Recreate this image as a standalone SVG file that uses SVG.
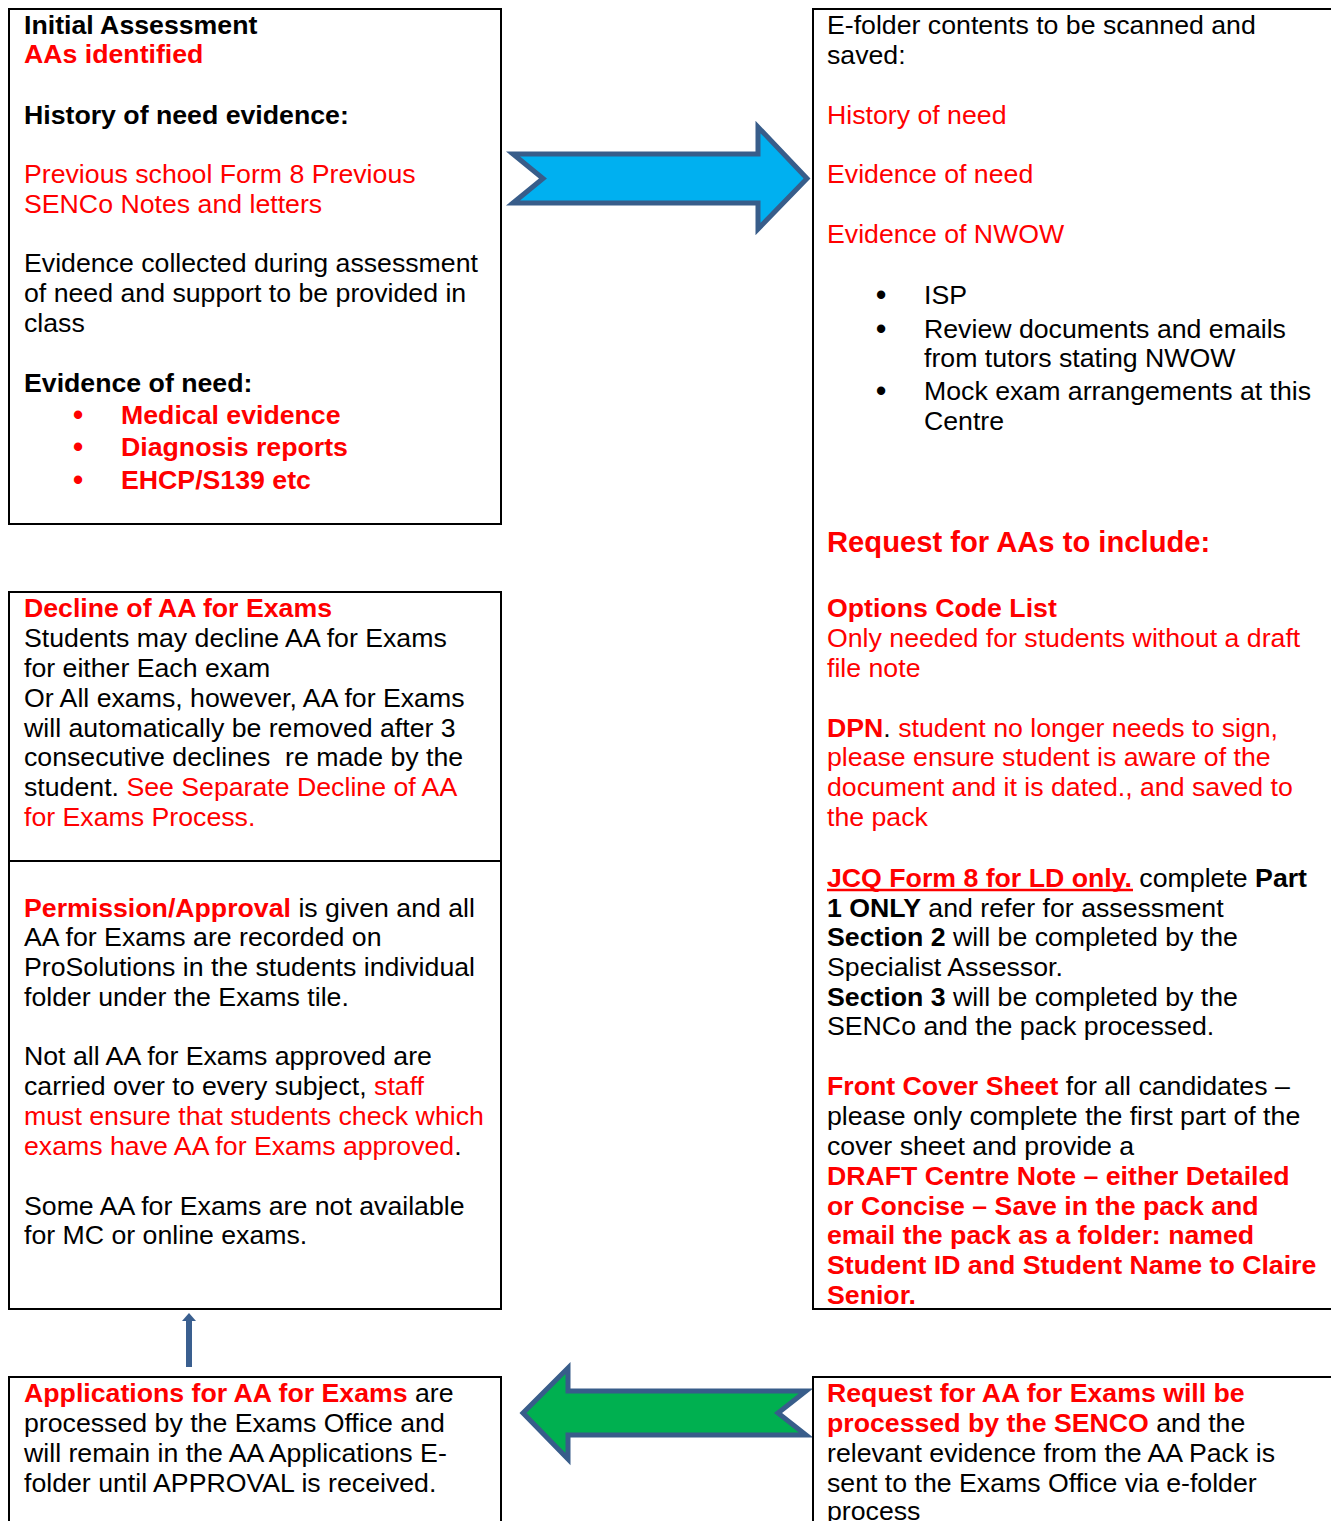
<svg xmlns="http://www.w3.org/2000/svg" width="1331" height="1521" viewBox="0 0 1331 1521">
<style>
text{font-family:"Liberation Sans",Arial,sans-serif;font-size:26.7px;fill:#000;white-space:pre}
.r{fill:#FF0000}
.b{font-weight:bold}
.h{font-size:29.2px}
.box{fill:#fff;stroke:#000;stroke-width:2}
.bul{font-size:29px}
</style>
<rect width="1331" height="1521" fill="#fff"/>

<g id="connectors">
<path d="M513,154 L543,178.5 L513,203 L758,203 L758,229 L807,178.5 L758,127 L758,154 Z" fill="#00B0F0" stroke="#385D8A" stroke-width="5" stroke-linejoin="miter"/>
<path d="M523,1413 L568,1368 L568,1391 L806,1391 L778,1413 L806,1435 L568,1435 L568,1459 Z" fill="#00B050" stroke="#385D8A" stroke-width="5" stroke-linejoin="miter"/>
<path d="M186,1367 L186,1321 L182,1321 L189,1313 L196,1321 L192,1321 L192,1367 Z" fill="#3A5F8F"/>
</g>

<g id="initial-assessment">
<rect class="box" x="9" y="9" width="492" height="515"/>
<text x="24" y="34" class="b">Initial Assessment</text>
<text x="24" y="63" class="b r">AAs identified</text>
<text x="24" y="124" class="b">History of need evidence:</text>
<text x="24" y="183" class="r">Previous school Form 8 Previous</text>
<text x="24" y="213" class="r">SENCo Notes and letters</text>
<text x="24" y="272">Evidence collected during assessment</text>
<text x="24" y="302">of need and support to be provided in</text>
<text x="24" y="332">class</text>
<text x="24" y="392" class="b">Evidence of need:</text>
<text x="78" y="425" class="r b bul" text-anchor="middle">•</text>
<text x="121" y="424" class="b r">Medical evidence</text>
<text x="78" y="457" class="r b bul" text-anchor="middle">•</text>
<text x="121" y="456" class="b r">Diagnosis reports</text>
<text x="78" y="490" class="r b bul" text-anchor="middle">•</text>
<text x="121" y="489" class="b r">EHCP/S139 etc</text>
</g>

<g id="e-folder">
<rect class="box" x="813" y="9" width="540" height="1300"/>
<text x="827" y="34">E-folder contents to be scanned and</text>
<text x="827" y="64">saved:</text>
<text x="827" y="124" class="r">History of need</text>
<text x="827" y="183" class="r">Evidence of need</text>
<text x="827" y="243" class="r">Evidence of NWOW</text>
<text x="881" y="305" class="b bul" text-anchor="middle">•</text>
<text x="924" y="304">ISP</text>
<text x="881" y="339" class="b bul" text-anchor="middle">•</text>
<text x="924" y="338">Review documents and emails</text>
<text x="924" y="367">from tutors stating NWOW</text>
<text x="881" y="401" class="b bul" text-anchor="middle">•</text>
<text x="924" y="400">Mock exam arrangements at this</text>
<text x="924" y="430">Centre</text>
<text x="827" y="552" class="b r h">Request for AAs to include:</text>
<text x="827" y="617" class="b r">Options Code List</text>
<text x="827" y="647" class="r">Only needed for students without a draft</text>
<text x="827" y="677" class="r">file note</text>
<text x="827" y="737"><tspan class="b r">DPN</tspan>.<tspan class="r"> student no longer needs to sign,</tspan></text>
<text x="827" y="766" class="r">please ensure student is aware of the</text>
<text x="827" y="796" class="r">document and it is dated., and saved to</text>
<text x="827" y="826" class="r">the pack</text>
<text x="827" y="887"><tspan class="b r">JCQ Form 8 for LD only.</tspan> complete <tspan class="b">Part</tspan></text>
<line x1="827" y1="890" x2="1133" y2="890" stroke="#FF0000" stroke-width="2.5"/>
<text x="827" y="917"><tspan class="b">1 ONLY</tspan> and refer for assessment</text>
<text x="827" y="946"><tspan class="b">Section 2</tspan> will be completed by the</text>
<text x="827" y="976">Specialist Assessor.</text>
<text x="827" y="1006"><tspan class="b">Section 3</tspan> will be completed by the</text>
<text x="827" y="1035">SENCo and the pack processed.</text>
<text x="827" y="1095"><tspan class="b r">Front Cover Sheet</tspan> for all candidates –</text>
<text x="827" y="1125">please only complete the first part of the</text>
<text x="827" y="1155">cover sheet and provide a</text>
<text x="827" y="1185" class="b r">DRAFT Centre Note – either Detailed</text>
<text x="827" y="1215" class="b r">or Concise – Save in the pack and</text>
<text x="827" y="1244" class="b r">email the pack as a folder: named</text>
<text x="827" y="1274" class="b r">Student ID and Student Name to Claire</text>
<text x="827" y="1304" class="b r">Senior.</text>
</g>

<g id="decline">
<rect class="box" x="9" y="592" width="492" height="269"/>
<text x="24" y="617" class="b r">Decline of AA for Exams</text>
<text x="24" y="647">Students may decline AA for Exams</text>
<text x="24" y="677">for either Each exam</text>
<text x="24" y="707">Or All exams, however, AA for Exams</text>
<text x="24" y="737">will automatically be removed after 3</text>
<text x="24" y="766">consecutive declines  re made by the</text>
<text x="24" y="796">student. <tspan class="r">See Separate Decline of AA</tspan></text>
<text x="24" y="826" class="r">for Exams Process.</text>
</g>

<g id="permission">
<rect class="box" x="9" y="861" width="492" height="448"/>
<text x="24" y="917"><tspan class="b r">Permission/Approval</tspan> is given and all</text>
<text x="24" y="946">AA for Exams are recorded on</text>
<text x="24" y="976">ProSolutions in the students individual</text>
<text x="24" y="1006">folder under the Exams tile.</text>
<text x="24" y="1065">Not all AA for Exams approved are</text>
<text x="24" y="1095">carried over to every subject, <tspan class="r">staff</tspan></text>
<text x="24" y="1125" class="r">must ensure that students check which</text>
<text x="24" y="1155"><tspan class="r">exams have AA for Exams approved</tspan>.</text>
<text x="24" y="1215">Some AA for Exams are not available</text>
<text x="24" y="1244">for MC or online exams.</text>
</g>

<g id="applications">
<rect class="box" x="9" y="1377" width="492" height="200"/>
<text x="24" y="1402"><tspan class="b r">Applications for AA for Exams</tspan> are</text>
<text x="24" y="1432">processed by the Exams Office and</text>
<text x="24" y="1462">will remain in the AA Applications E-</text>
<text x="24" y="1492">folder until APPROVAL is received.</text>
</g>

<g id="request-senco">
<rect class="box" x="813" y="1377" width="540" height="200"/>
<text x="827" y="1402" class="b r">Request for AA for Exams will be</text>
<text x="827" y="1432"><tspan class="b r">processed by the SENCO</tspan> and the</text>
<text x="827" y="1462">relevant evidence from the AA Pack is</text>
<text x="827" y="1492">sent to the Exams Office via e-folder</text>
<text x="827" y="1520">process</text>
</g>
</svg>
